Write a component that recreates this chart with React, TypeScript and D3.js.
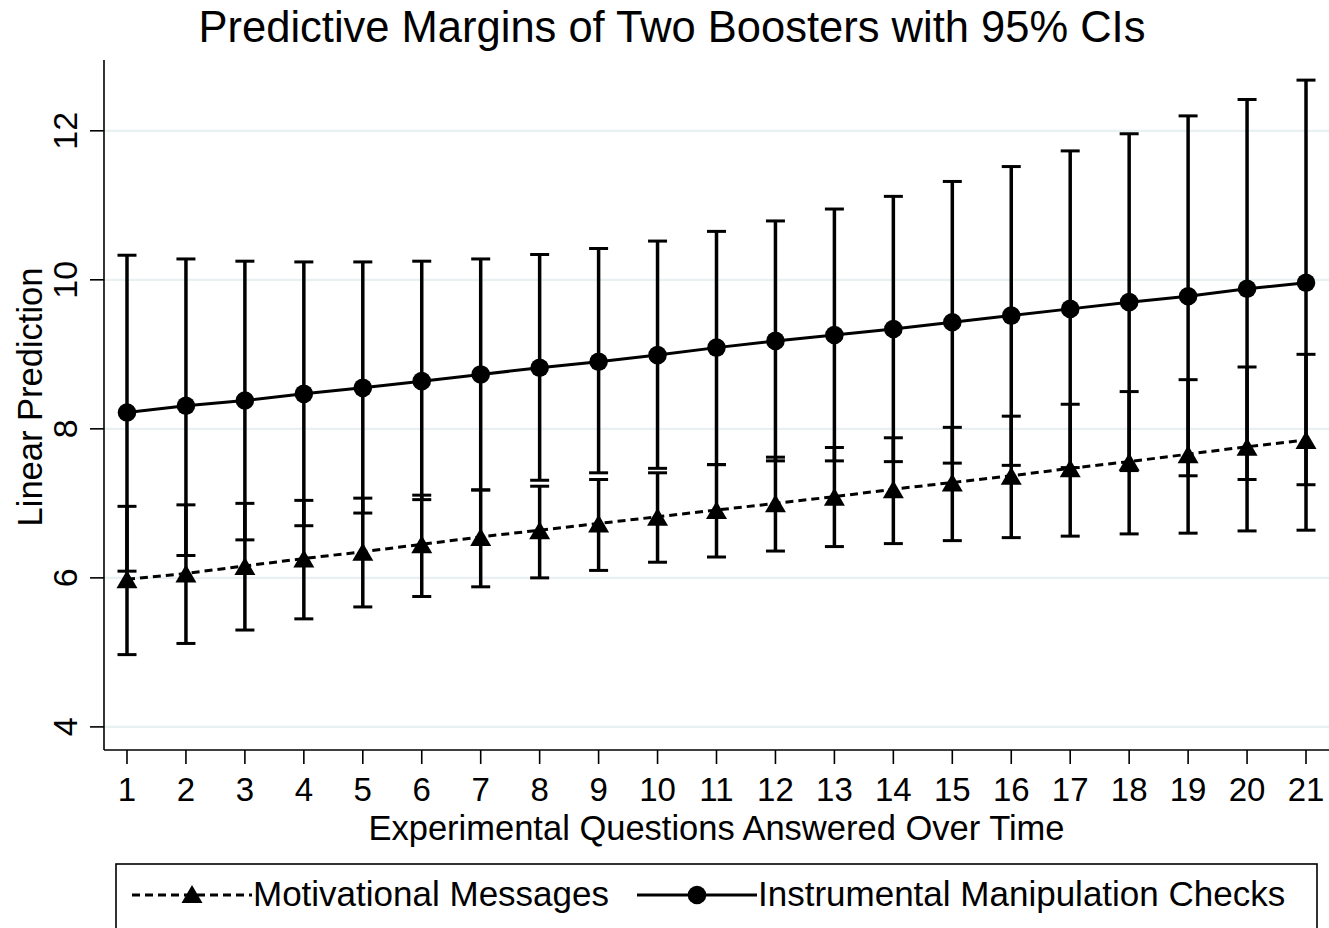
import React from "react";
import * as d3 from "d3";

const questions = [1, 2, 3, 4, 5, 6, 7, 8, 9, 10, 11, 12, 13, 14, 15, 16, 17, 18, 19, 20, 21];

const motivMean = [5.98, 6.06, 6.16, 6.26, 6.35, 6.45, 6.55, 6.64, 6.73, 6.82, 6.91, 7.0, 7.09, 7.19, 7.28, 7.37, 7.47, 7.56, 7.66, 7.76, 7.85];
const motivLow = [4.97, 5.12, 5.3, 5.45, 5.61, 5.75, 5.88, 6.0, 6.1, 6.21, 6.28, 6.36, 6.42, 6.46, 6.5, 6.54, 6.56, 6.59, 6.6, 6.63, 6.64];
const motivHigh = [6.96, 6.98, 7.0, 7.04, 7.07, 7.11, 7.18, 7.23, 7.32, 7.41, 7.52, 7.62, 7.75, 7.88, 8.02, 8.17, 8.33, 8.5, 8.66, 8.83, 9.0];

const instrMean = [8.22, 8.31, 8.38, 8.47, 8.55, 8.64, 8.73, 8.82, 8.9, 8.99, 9.09, 9.18, 9.26, 9.34, 9.43, 9.52, 9.61, 9.7, 9.78, 9.88, 9.96];
const instrLow = [6.09, 6.3, 6.51, 6.7, 6.87, 7.05, 7.18, 7.31, 7.41, 7.47, 7.52, 7.57, 7.57, 7.56, 7.54, 7.51, 7.48, 7.44, 7.37, 7.32, 7.25];
const instrHigh = [10.33, 10.28, 10.25, 10.24, 10.24, 10.25, 10.28, 10.34, 10.42, 10.52, 10.65, 10.79, 10.95, 11.12, 11.32, 11.52, 11.73, 11.96, 12.2, 12.42, 12.68];

const yTicks = [4, 6, 8, 10, 12];

const seriesNames = ["Motivational Messages", "Instrumental Manipulation Checks"];
const titleText = "Predictive Margins of Two Boosters with 95% CIs";
const xTitle = "Experimental Questions Answered Over Time";
const yTitle = "Linear Prediction";

const W = 1329;
const H = 928;
const FONT = "'Liberation Sans', Arial, Helvetica, sans-serif";

export default function App() {
  const plotLeft = 104;
  const plotRight = 1329;
  const plotTop = 60;
  const plotBottom = 750;

  const x = d3.scaleLinear().domain([0.61, 21.39]).range([plotLeft, plotRight]);
  const y = d3.scaleLinear().domain([3.69, 12.95]).range([plotBottom, plotTop]);

  const motivLine = d3
    .line<number>()
    .x((_, i) => x(questions[i]))
    .y((d) => y(d))(motivMean) as string;
  const instrLine = d3
    .line<number>()
    .x((_, i) => x(questions[i]))
    .y((d) => y(d))(instrMean) as string;

  const capHalf = 9.5;
  const triW = 21;
  const triH = 18;
  const triPath = (cx: number, cy: number) =>
    `M${cx - triW / 2},${cy + triH / 2}L${cx + triW / 2},${cy + triH / 2}L${cx},${cy - triH / 2}Z`;

  const errBars = (lows: number[], highs: number[], key: string) =>
    questions.map((q, i) => {
      const cx = x(q);
      const y1 = y(lows[i]);
      const y2 = y(highs[i]);
      return (
        <g key={key + i}>
          <line x1={cx} x2={cx} y1={y1} y2={y2} stroke="#000" strokeWidth={3.5} />
          <line x1={cx - capHalf} x2={cx + capHalf} y1={y1} y2={y1} stroke="#000" strokeWidth={3} />
          <line x1={cx - capHalf} x2={cx + capHalf} y1={y2} y2={y2} stroke="#000" strokeWidth={3} />
        </g>
      );
    });

  return (
    <svg
      width={W}
      height={H}
      style={{ position: "absolute", left: 0, top: 0, background: "#fff" }}
      fontFamily={FONT}
    >
      <rect x={0} y={0} width={W} height={H} fill="#fff" />
      {/* title */}
      <text x={672} y={42} textAnchor="middle" fontSize={43.5} fill="#000">
        {titleText}
      </text>

      {/* gridlines */}
      {yTicks.map((t) => (
        <line key={"g" + t} x1={plotLeft} x2={plotRight} y1={y(t)} y2={y(t)} stroke="#e8f0f2" strokeWidth={2.2} />
      ))}

      {/* axes */}
      <line x1={plotLeft} x2={plotLeft} y1={plotTop} y2={plotBottom} stroke="#000" strokeWidth={1.6} />
      <line x1={plotLeft} x2={plotRight} y1={plotBottom} y2={plotBottom} stroke="#000" strokeWidth={1.6} />

      {yTicks.map((t) => (
        <g key={"yt" + t}>
          <line x1={plotLeft - 14} x2={plotLeft} y1={y(t)} y2={y(t)} stroke="#000" strokeWidth={1.6} />
          <text
            transform={`translate(77,${y(t)}) rotate(-90)`}
            textAnchor="middle"
            fontSize={34}
            fill="#000"
          >
            {t}
          </text>
        </g>
      ))}

      {questions.map((q) => (
        <g key={"xt" + q}>
          <line x1={x(q)} x2={x(q)} y1={plotBottom} y2={plotBottom + 14} stroke="#000" strokeWidth={1.6} />
          <text x={x(q)} y={801} textAnchor="middle" fontSize={33} fill="#000">
            {q}
          </text>
        </g>
      ))}

      <text x={(plotLeft + plotRight) / 2} y={840} textAnchor="middle" fontSize={34.5} fill="#000">
        {xTitle}
      </text>
      <text transform={`translate(42,397) rotate(-90)`} textAnchor="middle" fontSize={34.5} fill="#000">
        {yTitle}
      </text>

      {/* error bars */}
      {errBars(motivLow, motivHigh, "m")}
      {errBars(instrLow, instrHigh, "i")}

      {/* lines */}
      <path d={motivLine} fill="none" stroke="#000" strokeWidth={3} strokeDasharray="8,5" />
      <path d={instrLine} fill="none" stroke="#000" strokeWidth={3} />

      {/* markers */}
      {questions.map((q, i) => (
        <path key={"tri" + q} d={triPath(x(q), y(motivMean[i]))} fill="#000" />
      ))}
      {questions.map((q, i) => (
        <circle key={"c" + q} cx={x(q)} cy={y(instrMean[i])} r={9.3} fill="#000" />
      ))}

      {/* legend */}
      <rect x={116} y={864} width={1201} height={80} fill="#fff" stroke="#000" strokeWidth={1.6} />
      <line x1={132} x2={252} y1={895} y2={895} stroke="#000" strokeWidth={3} strokeDasharray="8,5" />
      <path d={triPath(192, 894)} fill="#000" />
      <text x={253} y={906} fontSize={35} fill="#000">
        {seriesNames[0]}
      </text>
      <line x1={637} x2={757} y1={895} y2={895} stroke="#000" strokeWidth={3} />
      <circle cx={697} cy={895} r={9.3} fill="#000" />
      <text x={758} y={906} fontSize={35} fill="#000">
        {seriesNames[1]}
      </text>
    </svg>
  );
}
